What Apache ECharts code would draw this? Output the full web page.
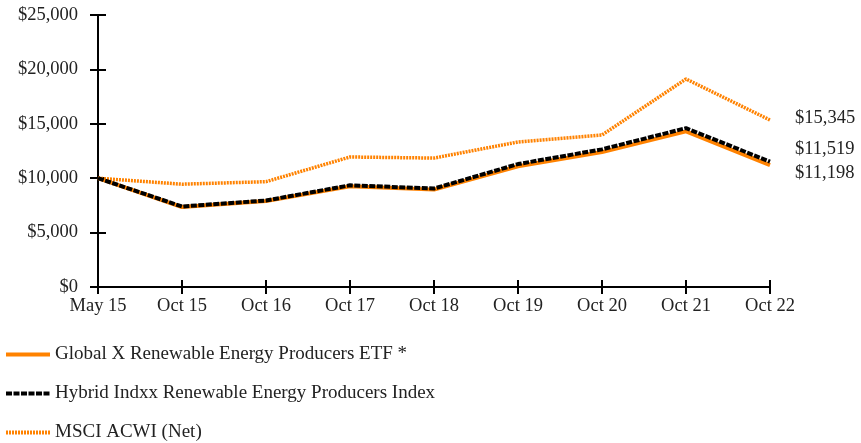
<!DOCTYPE html>
<html>
<head>
<meta charset="utf-8">
<script src="https://cdn.jsdelivr.net/npm/echarts@6/dist/echarts.min.js"></script>
<style>
  html, body { margin: 0; padding: 0; background: #fff; }
  #chart { width: 861px; height: 443px; }
</style>
</head>
<body>
<div id="chart"></div>
<script>
const categories = ['May 15', 'Oct 15', 'Oct 16', 'Oct 17', 'Oct 18', 'Oct 19', 'Oct 20', 'Oct 21', 'Oct 22']
const etf = [10000, 7350, 7900, 9250, 8950, 11100, 12400, 14300, 11198]
const hybrid = [10000, 7400, 7950, 9350, 9050, 11300, 12650, 14600, 11519]
const msci = [10000, 9450, 9680, 11950, 11850, 13330, 13970, 19120, 15345]
const seriesNames = [
  'Global X Renewable Energy Producers ETF *',
  'Hybrid Indxx Renewable Energy Producers Index',
  'MSCI ACWI (Net)',
]

const orange = '#FF8200'
const font = 'Liberation Serif'
const chart = echarts.init(document.getElementById('chart'))

const money = v => '$' + v.toLocaleString('en-US')

function endLabel(offsetY) {
  return {
    show: true,
    formatter: p => money(p.value),
    color: '#222',
    fontFamily: font,
    fontSize: 18.5,
    offset: [17, offsetY],
  }
}

chart.setOption({
  animation: false,
  textStyle: { fontFamily: font },
  grid: { left: 98, right: 91, top: 15, bottom: 156 },
  legend: {
    orient: 'vertical',
    left: 4,
    top: 345,
    height: 98,
    padding: 0,
    itemGap: 20,
    itemWidth: 44,
    itemHeight: 16,
    itemStyle: { opacity: 0 },
    lineStyle: { width: 4 },
    textStyle: { fontFamily: font, fontSize: 19, color: '#222' },
    data: seriesNames,
  },
  xAxis: [
    {
      type: 'category',
      data: categories,
      boundaryGap: false,
      axisLine: { lineStyle: { color: '#000', width: 2 } },
      axisTick: { length: 7, lineStyle: { color: '#000', width: 2 } },
      axisLabel: { color: '#222', fontFamily: font, fontSize: 18.5, margin: 10, interval: 0 },
    },
    {
      type: 'category',
      data: categories,
      boundaryGap: false,
      position: 'bottom',
      axisLine: { show: false },
      axisTick: { inside: true, length: 7, lineStyle: { color: '#000', width: 2 } },
      axisLabel: { show: false },
    },
  ],
  yAxis: [
    {
      type: 'value',
      min: 0,
      max: 25000,
      interval: 5000,
      splitLine: { show: false },
      axisLine: { show: true, lineStyle: { color: '#000', width: 2 } },
      axisTick: { show: true, length: 8, lineStyle: { color: '#000', width: 2 } },
      axisLabel: { color: '#222', fontFamily: font, fontSize: 18.5, margin: 20, formatter: money },
    },
    {
      type: 'value',
      min: 0,
      max: 25000,
      interval: 5000,
      position: 'left',
      splitLine: { show: false },
      axisLine: { show: false },
      axisTick: { show: true, inside: true, length: 8, lineStyle: { color: '#000', width: 2 } },
      axisLabel: { show: false },
    },
  ],
  series: [
    {
      name: seriesNames[0],
      type: 'line',
      data: etf,
      symbol: 'none',
      z: 3,
      lineStyle: { color: orange, width: 4 },
      itemStyle: { color: orange },
      endLabel: endLabel(8),
    },
    {
      name: seriesNames[1],
      type: 'line',
      data: hybrid,
      symbol: 'none',
      z: 4,
      lineStyle: { color: '#000', width: 4, type: [6, 1.5] },
      itemStyle: { color: '#000' },
      endLabel: endLabel(-13),
    },
    {
      name: seriesNames[2],
      type: 'line',
      data: msci,
      symbol: 'none',
      z: 2,
      lineStyle: { color: orange, width: 3.5, type: [2, 1] },
      itemStyle: { color: orange },
      endLabel: endLabel(-2),
    },
  ],
})
</script>
</body>
</html>
